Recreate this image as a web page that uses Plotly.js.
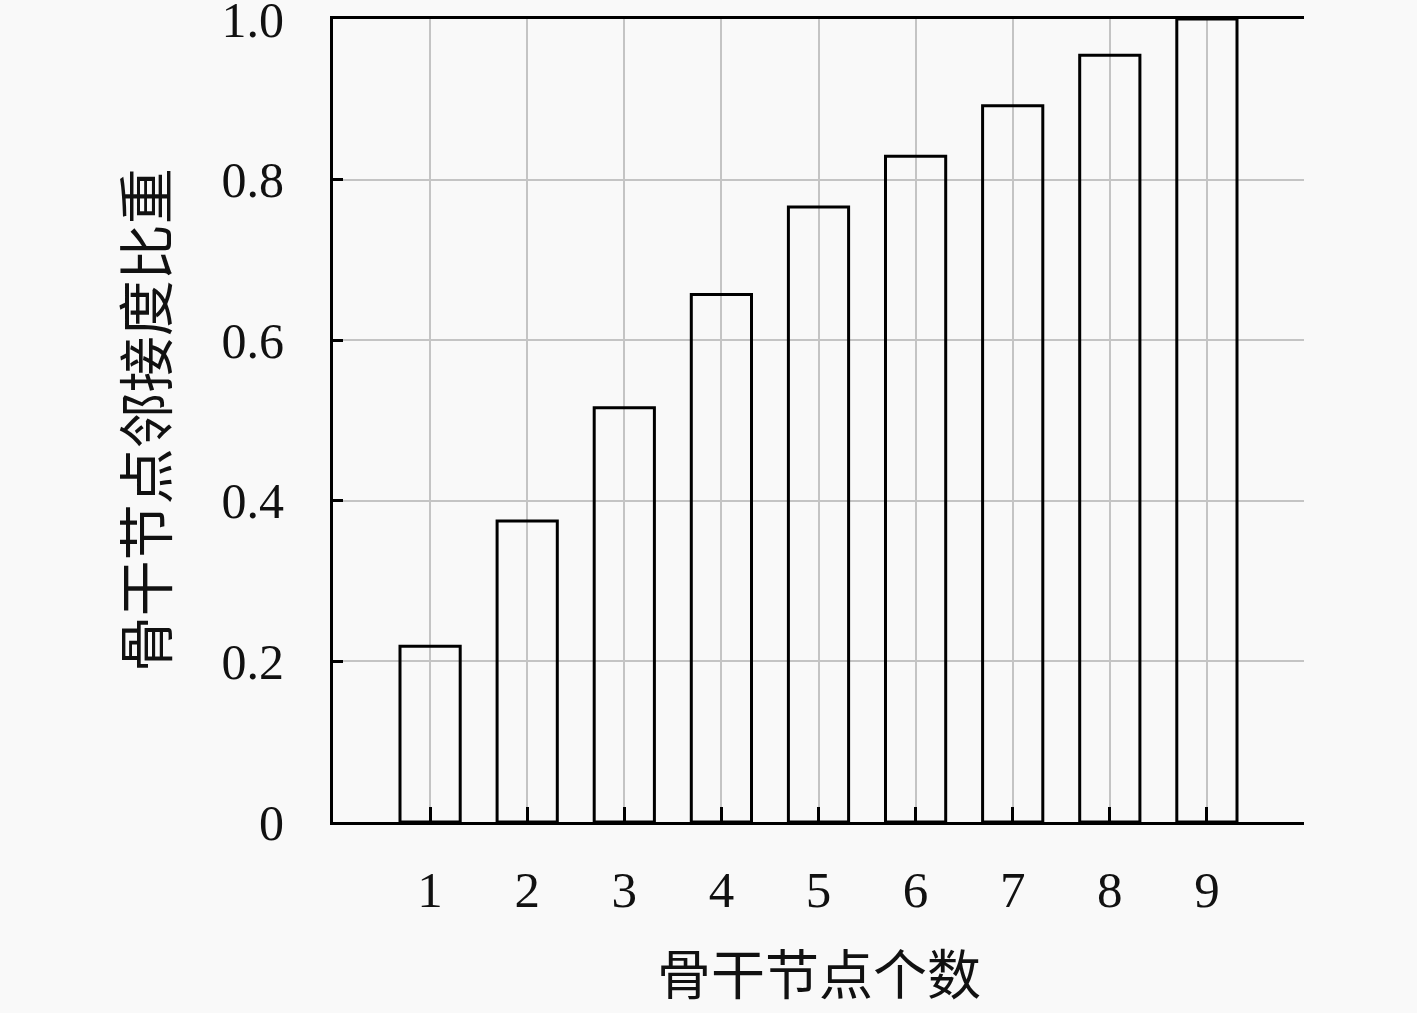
<!DOCTYPE html>
<html>
<head>
<meta charset="utf-8">
<script src="https://cdn.plot.ly/plotly-3.0.1.min.js"></script>
<style>
  html, body { margin: 0; padding: 0; background: #f9f9f9; }
  #chart { width: 1417px; height: 1013px; }
</style>
</head>
<body>
<div id="chart"></div>
<script>
// 骨干节点个数 vs 邻接度比重
const nodeCounts = [1, 2, 3, 4, 5, 6, 7, 8, 9]
const adjShare = [0.219, 0.375, 0.516, 0.657, 0.766, 0.829, 0.892, 0.955, 1.0]
const yTickVals = [0, 0.2, 0.4, 0.6, 0.8, 1.0]
const yTickText = ['0', '0.2', '0.4', '0.6', '0.8', '1.0']

const serif = '"Liberation Serif", "DejaVu Serif", serif'
const cjk = '"Noto Sans CJK SC", sans-serif'

const trace = {
  x: nodeCounts,
  y: adjShare,
  type: 'bar',
  width: 0.62,
  marker: {
    color: 'rgba(0,0,0,0)',
    line: { color: '#000', width: 3 }
  },
  hoverinfo: 'none'
}

const layout = {
  width: 1417,
  height: 1013,
  paper_bgcolor: '#f9f9f9',
  plot_bgcolor: '#f9f9f9',
  margin: { l: 333, r: 113, t: 19, b: 191 },
  showlegend: false,
  xaxis: {
    range: [0, 10],
    tickvals: nodeCounts,
    ticks: 'inside',
    ticklen: 15,
    tickwidth: 3,
    tickcolor: '#000',
    showline: true,
    mirror: true,
    linecolor: '#000',
    linewidth: 3,
    showgrid: true,
    gridcolor: '#c4c4c4',
    gridwidth: 2,
    zeroline: false,
    ticklabelstandoff: 21,
    tickfont: { family: serif, size: 51, color: '#111' }
  },
  yaxis: {
    range: [0, 1.0],
    tickvals: yTickVals,
    ticktext: yTickText,
    ticks: 'inside',
    ticklen: 10,
    tickwidth: 3,
    tickcolor: '#000',
    showline: true,
    mirror: false,
    linecolor: '#000',
    linewidth: 3,
    showgrid: true,
    gridcolor: '#c4c4c4',
    gridwidth: 2,
    zeroline: false,
    ticklabelstandoff: 36,
    ticklabeloverflow: 'allow',
    tickfont: { family: serif, size: 50, color: '#111' }
  },
  annotations: [
    {
      // x axis title
      text: '骨干节点个数',
      xref: 'paper', yref: 'paper',
      x: 0.5, y: -0.186,
      xanchor: 'center', yanchor: 'middle',
      showarrow: false,
      font: { family: cjk, size: 54, color: '#111' }
    },
    {
      // y axis title
      text: '骨干节点邻接度比重',
      xref: 'paper', yref: 'paper',
      x: -0.196, y: 0.5,
      xanchor: 'center', yanchor: 'middle',
      textangle: -90,
      showarrow: false,
      font: { family: cjk, size: 56, color: '#111' }
    }
  ]
}

Plotly.newPlot('chart', [trace], layout, { staticPlot: true, displayModeBar: false })
</script>
</body>
</html>
